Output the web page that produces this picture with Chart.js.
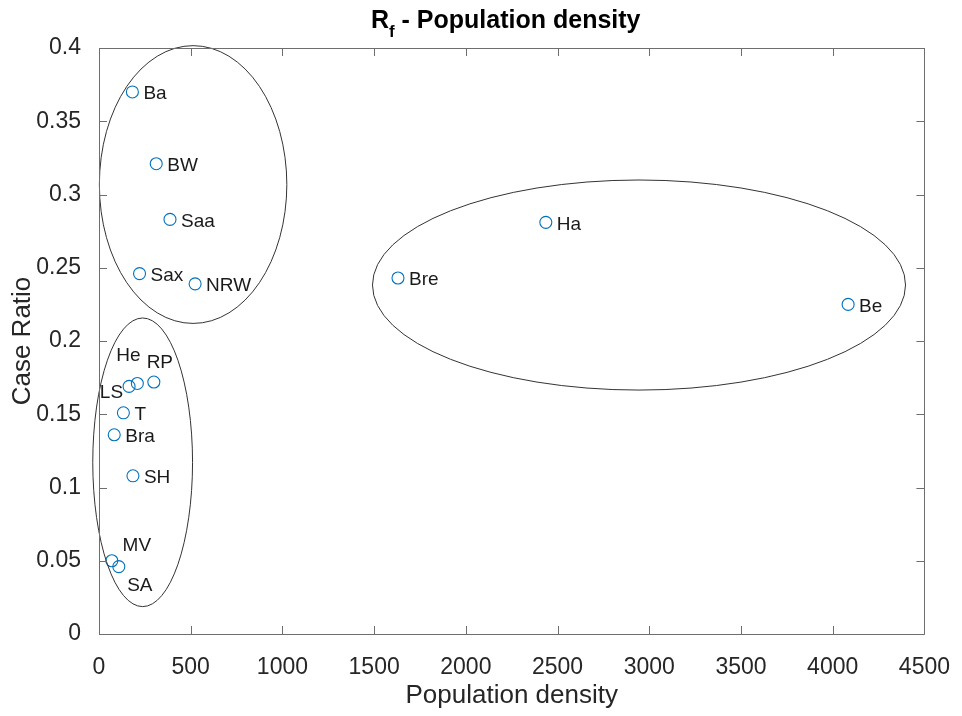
<!DOCTYPE html>
<html>
<head>
<meta charset="utf-8">
<script src="https://cdn.jsdelivr.net/npm/chart.js@4/dist/chart.umd.min.js"></script>
<style>
  html, body { margin: 0; padding: 0; background: #fff; }
  #wrap { width: 962px; height: 716px; }
</style>
</head>
<body>
<div id="wrap"><canvas id="chart" width="962" height="716"></canvas></div>
<script>
// ── Data ─────────────────────────────────────────
const states    = ['Ba', 'BW', 'Saa', 'Sax', 'NRW', 'Ha', 'Bre', 'Be', 'LS', 'He', 'RP', 'T', 'Bra', 'SH', 'MV', 'SA'];
const density   = [182, 312, 387, 221, 524, 2436, 1630, 4084, 164, 209, 299, 133, 83, 185, 70, 108];
const caseRatio = [0.370, 0.321, 0.283, 0.246, 0.239, 0.281, 0.243, 0.225, 0.169, 0.171, 0.172, 0.151, 0.136, 0.108, 0.050, 0.046];

const xTicks      = [0, 500, 1000, 1500, 2000, 2500, 3000, 3500, 4000, 4500];
const yTicks      = [0, 0.05, 0.1, 0.15, 0.2, 0.25, 0.3, 0.35, 0.4];
const yTickLabels = ['0', '0.05', '0.1', '0.15', '0.2', '0.25', '0.3', '0.35', '0.4'];

// cluster ellipses, in data units
const groupCenterX = [513, 238, 2944];
const groupCenterY = [0.3068, 0.1172, 0.2382];
const groupRadiusX = [511, 272, 1453];
const groupRadiusY = [0.0948, 0.0985, 0.0717];

// ── Styles ───────────────────────────────────────
const FONT   = '"Liberation Sans", Arial, Helvetica, sans-serif';
const INK    = '#262626';
const AXIS   = '#6e6e6e';
const MARKER = '#0072BD';

// label placement next to each marker (pixels); default is right of the marker
const labelPlace = {
  LS: { dx: -6,  dy: 6,   align: 'right'  },
  He: { dx: -9,  dy: -28, align: 'center' },
  RP: { dx: 6,   dy: -19, align: 'center' },
  MV: { dx: 25,  dy: -15, align: 'center' },
  SA: { dx: 21,  dy: 19,  align: 'center' },
};

// ── Plugins ──────────────────────────────────────

const groupEllipses = {
  id: 'groupEllipses',
  afterDatasetsDraw(chart) {
    const { ctx, scales: { x, y } } = chart;
    ctx.save();
    ctx.strokeStyle = '#333';
    ctx.lineWidth = 1;
    groupCenterX.forEach((cx, i) => {
      const px = x.getPixelForValue(cx);
      const py = y.getPixelForValue(groupCenterY[i]);
      const rx = Math.abs(x.getPixelForValue(cx + groupRadiusX[i]) - px);
      const ry = Math.abs(y.getPixelForValue(groupCenterY[i] + groupRadiusY[i]) - py);
      ctx.beginPath();
      ctx.ellipse(px, py, rx, ry, 0, 0, Math.PI * 2);
      ctx.stroke();
    });
    ctx.restore();
  },
};

const stateLabels = {
  id: 'stateLabels',
  afterDatasetsDraw(chart) {
    const { ctx } = chart;
    const pts = chart.getDatasetMeta(0).data;
    ctx.save();
    ctx.font = `19px ${FONT}`;
    ctx.fillStyle = '#1a1a1a';
    ctx.textBaseline = 'middle';
    states.forEach((name, i) => {
      const p = labelPlace[name] || { dx: 11, dy: 2, align: 'left' };
      ctx.textAlign = p.align;
      ctx.fillText(name, pts[i].x + p.dx, pts[i].y + p.dy);
    });
    ctx.restore();
  },
};

// MATLAB-like box with inward ticks on all four sides
const matlabBox = {
  id: 'matlabBox',
  afterDraw(chart) {
    const { ctx, chartArea: a, scales: { x, y } } = chart;
    const len = 8;
    ctx.save();
    ctx.strokeStyle = AXIS;
    ctx.lineWidth = 1;
    ctx.beginPath();
    ctx.rect(Math.round(a.left) + 0.5, Math.round(a.top) + 0.5,
             Math.round(a.right - a.left), Math.round(a.bottom - a.top));
    xTicks.forEach((v) => {
      const px = Math.round(x.getPixelForValue(v)) + 0.5;
      ctx.moveTo(px, a.bottom); ctx.lineTo(px, a.bottom - len);
      ctx.moveTo(px, a.top);    ctx.lineTo(px, a.top + len);
    });
    yTicks.forEach((v) => {
      const py = Math.round(y.getPixelForValue(v)) + 0.5;
      ctx.moveTo(a.left, py);  ctx.lineTo(a.left + len, py);
      ctx.moveTo(a.right, py); ctx.lineTo(a.right - len, py);
    });
    ctx.stroke();
    ctx.restore();
  },
};

// title with subscript f: "R_f - Population density"
const subTitle = {
  id: 'subTitle',
  afterDraw(chart) {
    const { ctx, chartArea: a } = chart;
    const big = `bold 25px ${FONT}`;
    const small = `bold 17px ${FONT}`;
    const rest = ' - Population density';
    ctx.save();
    ctx.fillStyle = '#000';
    ctx.textBaseline = 'alphabetic';
    ctx.textAlign = 'left';
    ctx.font = big;
    const wR = ctx.measureText('R').width;
    const wRest = ctx.measureText(rest).width;
    ctx.font = small;
    const wF = ctx.measureText('f').width;
    const total = wR + wF + wRest;
    let cx = (a.left + a.right) / 2 - total / 2 - 6;
    const base = 28;
    ctx.font = big;   ctx.fillText('R', cx, base);  cx += wR;
    ctx.font = small; ctx.fillText('f', cx, base + 9); cx += wF;
    ctx.font = big;   ctx.fillText(rest, cx, base);
    ctx.restore();
  },
};

// ── Chart ────────────────────────────────────────

new Chart(document.getElementById('chart'), {
  type: 'scatter',
  data: {
    datasets: [{
      data: density.map((d, i) => ({ x: d, y: caseRatio[i] })),
      borderColor: MARKER,
      backgroundColor: 'rgba(0,0,0,0)',
      pointRadius: 6,
      pointHoverRadius: 6,
      pointBorderWidth: 1.1,
      showLine: false,
    }],
  },
  options: {
    responsive: false,
    animation: false,
    events: [],
    layout: { padding: { top: 48, right: 30, bottom: 0, left: 0 } },
    plugins: { legend: { display: false }, tooltip: { enabled: false }, title: { display: false } },
    scales: {
      x: {
        type: 'linear', min: 0, max: 4500,
        afterBuildTicks: (s) => { s.ticks = xTicks.map((v) => ({ value: v })); },
        afterFit: (s) => { s.height = 82; },
        grid: { display: false },
        border: { display: false },
        ticks: {
          autoSkip: false, maxRotation: 0, padding: 12,
          color: INK, font: { family: FONT, size: 23 },
          callback: (v) => String(v),
        },
        title: {
          display: true, text: 'Population density', color: INK,
          font: { family: FONT, size: 26 }, padding: { top: 0, bottom: 5 },
        },
      },
      y: {
        type: 'linear', min: 0, max: 0.4,
        afterBuildTicks: (s) => { s.ticks = yTicks.map((v) => ({ value: v })); },
        afterFit: (s) => { s.width = 99; },
        grid: { display: false },
        border: { display: false },
        ticks: {
          autoSkip: false, padding: 10,
          color: INK, font: { family: FONT, size: 23 },
          callback: (v) => yTickLabels[yTicks.indexOf(v)],
        },
        title: {
          display: true, text: 'Case Ratio', color: INK,
          font: { family: FONT, size: 26 }, padding: { top: 7, bottom: 0 },
        },
      },
    },
  },
  plugins: [groupEllipses, stateLabels, matlabBox, subTitle],
});
</script>
</body>
</html>
